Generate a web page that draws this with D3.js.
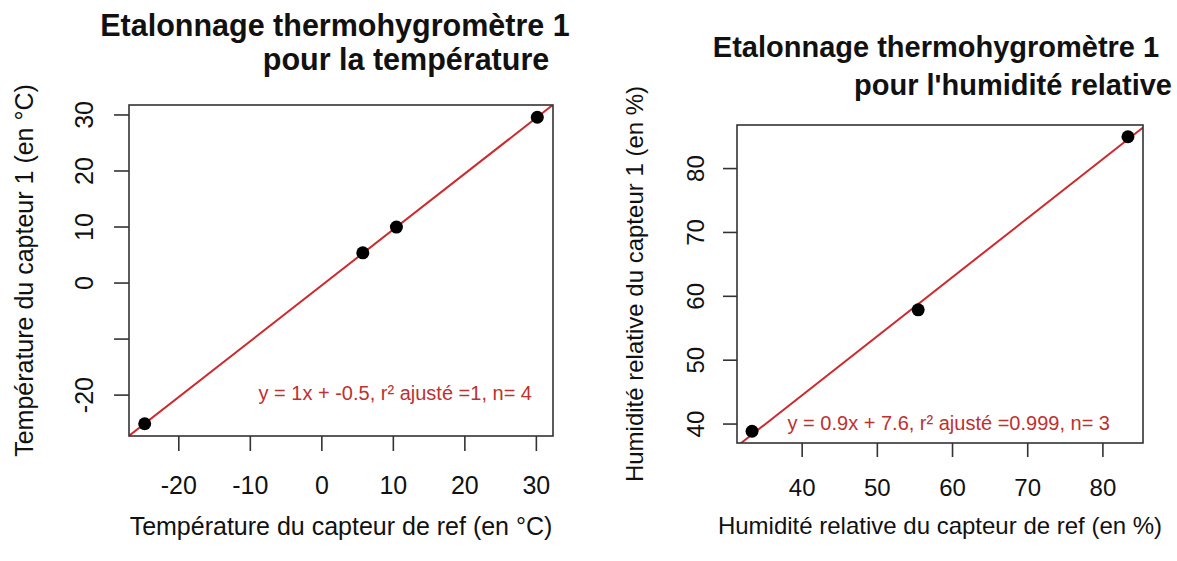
<!DOCTYPE html>
<html>
<head>
<meta charset="utf-8">
<script src="https://cdn.jsdelivr.net/npm/d3@7"></script>
<style>
  body { margin: 0; background: #fff; }
  svg text { font-family: "Liberation Sans", Arial, sans-serif; fill: #111; }
</style>
</head>
<body>
<script>
var width = 1177, height = 561;

// panneau 1 : température
var tempRef = [-24.7, 5.8, 10.5, 30.2];
var tempCapteur = [-25.2, 5.3, 9.9, 29.5];
var tempXTicks = [-20, -10, 0, 10, 20, 30];
var tempYTicks = [-20, -10, 0, 10, 20, 30];
var tempYTickLabels = ["-20", "", "0", "10", "20", "30"];
var tempTitle = ["Etalonnage thermohygromètre 1", "pour la température"];
var tempXLab = "Température du capteur de ref (en °C)";
var tempYLab = "Température du capteur 1 (en °C)";
var tempEq = "y = 1x + -0.5, r² ajusté =1, n= 4";

// panneau 2 : humidité relative
var humRef = [33.4, 55.5, 83.4];
var humCapteur = [38.8, 57.8, 84.9];
var humXTicks = [40, 50, 60, 70, 80];
var humYTicks = [40, 50, 60, 70, 80];
var humTitle = ["Etalonnage thermohygromètre 1", "pour l'humidité relative"];
var humXLab = "Humidité relative du capteur de ref (en %)";
var humYLab = "Humidité relative du capteur 1 (en %)";
var humEq = "y = 0.9x + 7.6, r² ajusté =0.999, n= 3";

var svg = d3.select("body").append("svg")
  .attr("width", width)
  .attr("height", height);

// comme R : étendre la plage de 4%
function rRange(v) {
  var e = d3.extent(v), d = (e[1] - e[0]) * 0.04;
  return [e[0] - d, e[1] + d];
}

// moindres carrés
function fit(x, y) {
  var mx = d3.mean(x), my = d3.mean(y), sxy = 0, sxx = 0;
  for (var i = 0; i < x.length; i++) {
    sxy += (x[i] - mx) * (y[i] - my);
    sxx += (x[i] - mx) * (x[i] - mx);
  }
  var b = sxy / sxx;
  return { b: b, a: my - b * mx };
}

function panel(o) {
  var g = svg.append("g");
  var x = d3.scaleLinear().domain(rRange(o.xs)).range([o.box[0], o.box[2]]);
  var y = d3.scaleLinear().domain(rRange(o.ys)).range([o.box[3], o.box[1]]);

  var xAxis = g.append("g")
    .attr("transform", "translate(0," + o.box[3] + ")")
    .call(d3.axisBottom(x).tickValues(o.xTicks).tickSize(o.tick).tickFormat(String));
  xAxis.select(".domain").remove();
  xAxis.selectAll("line").attr("stroke", "#333").attr("stroke-width", 1.6);
  xAxis.selectAll("text")
    .attr("y", o.xTickY).attr("dy", 0)
    .attr("font-size", o.fs).attr("fill", "#111")
    .style("font-family", "Liberation Sans, Arial, sans-serif");

  var yAxis = g.append("g")
    .attr("transform", "translate(" + o.box[0] + ",0)")
    .call(d3.axisLeft(y).tickValues(o.yTicks).tickSize(o.tick)
      .tickFormat(function(d, i) { return o.yTickLabels ? o.yTickLabels[i] : String(d); }));
  yAxis.select(".domain").remove();
  yAxis.selectAll("line").attr("stroke", "#333").attr("stroke-width", 1.6);
  yAxis.selectAll("text")
    .attr("transform", "rotate(-90)")
    .attr("x", 0).attr("y", o.yTickX).attr("dy", 0)
    .attr("text-anchor", "middle")
    .attr("font-size", o.fs).attr("fill", "#111")
    .style("font-family", "Liberation Sans, Arial, sans-serif");

  // droite de régression
  var clipId = "clip" + o.id;
  g.append("clipPath").attr("id", clipId)
    .append("rect")
    .attr("x", o.box[0]).attr("y", o.box[1])
    .attr("width", o.box[2] - o.box[0]).attr("height", o.box[3] - o.box[1]);
  var f = fit(o.xs, o.ys);
  var dom = x.domain();
  g.append("line")
    .attr("clip-path", "url(#" + clipId + ")")
    .attr("x1", x(dom[0])).attr("y1", y(f.a + f.b * dom[0]))
    .attr("x2", x(dom[1])).attr("y2", y(f.a + f.b * dom[1]))
    .attr("stroke", "#cc2a2e").attr("stroke-width", 2);

  g.selectAll("circle").data(o.xs).enter().append("circle")
    .attr("cx", function(d) { return x(d); })
    .attr("cy", function(d, i) { return y(o.ys[i]); })
    .attr("r", o.r)
    .attr("fill", "#000");

  g.append("rect")
    .attr("x", o.box[0]).attr("y", o.box[1])
    .attr("width", o.box[2] - o.box[0]).attr("height", o.box[3] - o.box[1])
    .attr("fill", "none").attr("stroke", "#333").attr("stroke-width", 1.6);

  g.append("text")
    .attr("x", o.eqPos[0]).attr("y", o.eqPos[1])
    .attr("text-anchor", "end")
    .attr("font-size", o.eqFs)
    .style("fill", "#c0302f")
    .text(o.eq);

  var cx = (o.box[0] + o.box[2]) / 2, cy = (o.box[1] + o.box[3]) / 2;
  g.append("text")
    .attr("x", cx).attr("y", o.xLabY)
    .attr("text-anchor", "middle")
    .attr("font-size", o.fs)
    .text(o.xLab);
  g.append("text")
    .attr("transform", "translate(" + o.yLabX + "," + cy + ") rotate(-90)")
    .attr("text-anchor", "middle")
    .attr("font-size", o.fs)
    .text(o.yLab);

  o.title.forEach(function(t, i) {
    g.append("text")
      .attr("x", o.titlePos[i][0]).attr("y", o.titlePos[i][1])
      .attr("text-anchor", "middle")
      .attr("font-size", o.titleFs)
      .attr("font-weight", "bold")
      .text(t);
  });
}

panel({
  id: 1, xs: tempRef, ys: tempCapteur,
  xTicks: tempXTicks, yTicks: tempYTicks, yTickLabels: tempYTickLabels,
  box: [129, 105, 553, 436], tick: 15, fs: 25, r: 6.5,
  xTickY: 58, yTickX: -36, xLabY: 535, yLabX: 33,
  xLab: tempXLab, yLab: tempYLab,
  eq: tempEq, eqPos: [532, 400], eqFs: 20,
  title: tempTitle, titlePos: [[335, 36], [406, 70]], titleFs: 30.5
});

panel({
  id: 2, xs: humRef, ys: humCapteur,
  xTicks: humXTicks, yTicks: humYTicks,
  box: [737, 125, 1143, 443], tick: 14, fs: 24, r: 6.5,
  xTickY: 53, yTickX: -33, xLabY: 534, yLabX: 643,
  xLab: humXLab, yLab: humYLab,
  eq: humEq, eqPos: [1110, 430], eqFs: 20,
  title: humTitle, titlePos: [[936, 57], [1013, 95]], titleFs: 29
});
</script>
</body>
</html>
